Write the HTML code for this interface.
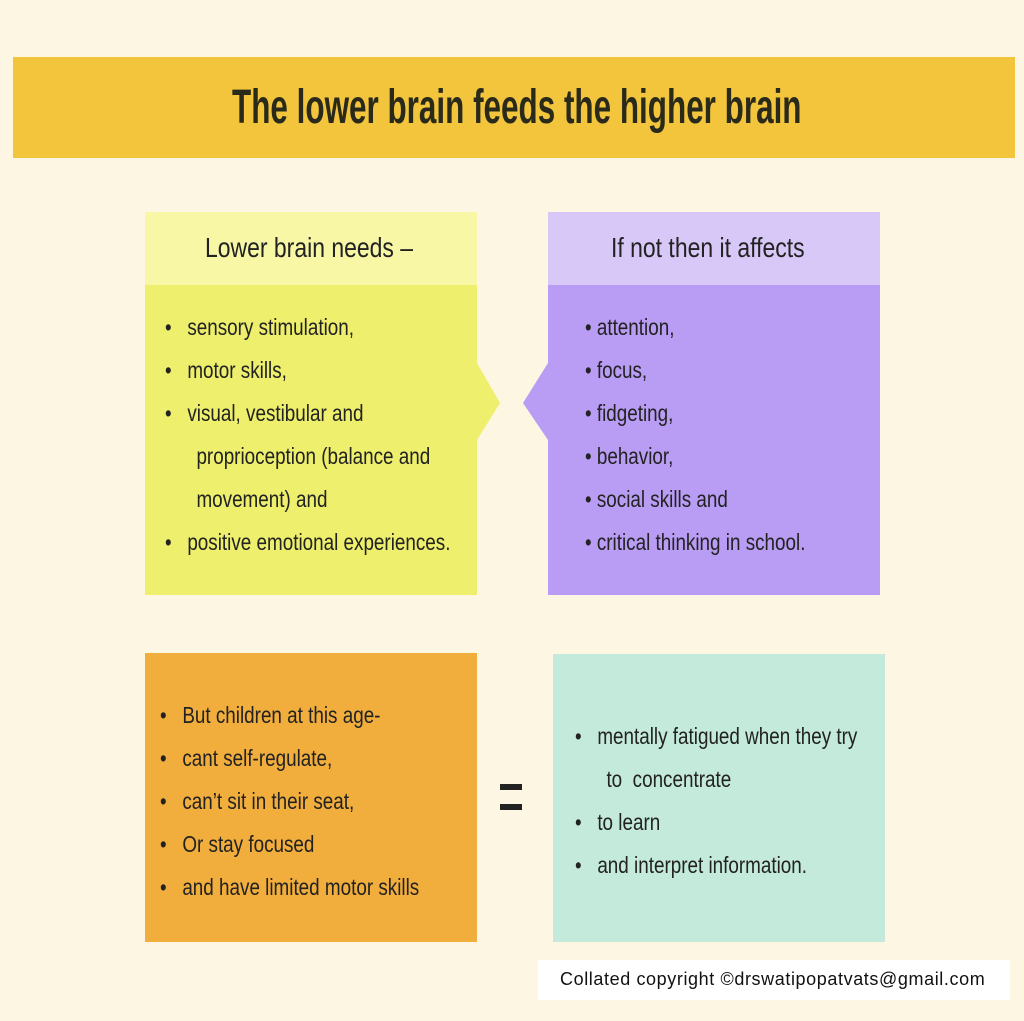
<!DOCTYPE html>
<html><head><style>
body{margin:0;width:1024px;height:1021px;background:#fcf6e3;position:relative;overflow:hidden;font-family:"Liberation Sans Narrow","Liberation Sans",sans-serif;color:#222}
.a{position:absolute}
.t{position:absolute;white-space:nowrap;transform-origin:0 0;transform:scaleX(.82)}
.li{font-size:23px;line-height:43px}
</style></head><body>
<div class="a" style="left:13px;top:57px;width:1002px;height:101px;background:#f2c53d"></div>
<div class="t" style="left:232px;top:80px;font-size:48px;font-weight:bold;color:#2a2a1a;transform:scaleX(.655)">The lower brain feeds the higher brain</div>

<svg class="a" style="left:0;top:0" width="1024" height="1021">
<rect x="145" y="212" width="332" height="73" fill="#f7f7a6"/>
<polygon points="145,285 477,285 477,363 500,403 477,440 477,595 145,595" fill="#eeef6c"/>
<rect x="548" y="212" width="332" height="73" fill="#d8c8f7"/>
<polygon points="548,285 880,285 880,595 548,595 548,440 523,403 548,363" fill="#b99cf3"/>
<rect x="145" y="653" width="332" height="289" fill="#f1ae3d"/>
<rect x="553" y="654" width="332" height="288" fill="#c4eadb"/>
<rect x="538" y="960" width="472" height="40" fill="#fff"/>
</svg>

<div class="t" style="left:205px;top:232px;font-size:28px">Lower brain needs –</div>
<div class="t" style="left:611px;top:232px;font-size:28px">If not then it affects</div>

<div class="t li" style="left:165px;top:306px">•&nbsp;&nbsp; sensory stimulation,<br>•&nbsp;&nbsp; motor skills,<br>•&nbsp;&nbsp; visual, vestibular and<br>&nbsp;&nbsp;&nbsp;&nbsp;&nbsp; proprioception (balance and<br>&nbsp;&nbsp;&nbsp;&nbsp;&nbsp; movement) and<br>•&nbsp;&nbsp; positive emotional experiences.</div>
<div class="t li" style="left:585px;top:306px">• attention,<br>• focus,<br>• fidgeting,<br>• behavior,<br>• social skills and<br>• critical thinking in school.</div>

<div class="t li" style="left:160px;top:694px">•&nbsp;&nbsp; But children at this age-<br>•&nbsp;&nbsp; cant self-regulate,<br>•&nbsp;&nbsp; can’t sit in their seat,<br>•&nbsp;&nbsp; Or stay focused<br>•&nbsp;&nbsp; and have limited motor skills</div>
<div class="t li" style="left:575px;top:715px">•&nbsp;&nbsp; mentally fatigued when they try<br>&nbsp;&nbsp;&nbsp;&nbsp;&nbsp; to&nbsp; concentrate<br>•&nbsp;&nbsp; to learn<br>•&nbsp;&nbsp; and interpret information.</div>

<div class="a" style="left:500px;top:784px;width:22px;height:6px;background:#222"></div>
<div class="a" style="left:500px;top:804px;width:22px;height:6px;background:#222"></div>

<div class="a" style="left:560px;top:969px;font-family:'Liberation Sans',sans-serif;font-size:18px;letter-spacing:.6px;color:#111;white-space:nowrap">Collated copyright ©drswatipopatvats@gmail.com</div>
</body></html>
